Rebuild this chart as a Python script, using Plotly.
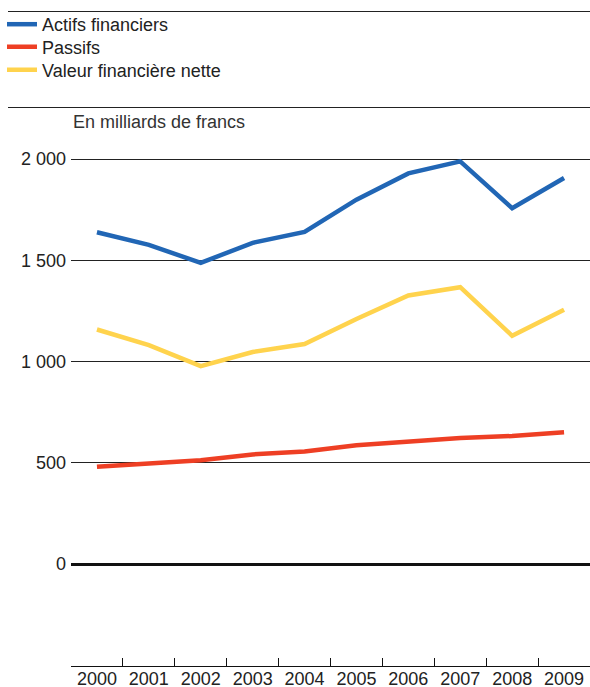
import plotly.graph_objects as go

years = ["2000", "2001", "2002", "2003", "2004", "2005", "2006", "2007", "2008", "2009"]
actifs = [1638, 1576, 1487, 1586, 1640, 1799, 1929, 1988, 1757, 1906]
passifs = [480, 495, 512, 541, 556, 586, 606, 622, 632, 651]
valeur_nette = [1158, 1081, 977, 1047, 1086, 1210, 1326, 1367, 1127, 1255]

names = ["Actifs financiers", "Passifs", "Valeur financière nette"]
values = [actifs, passifs, valeur_nette]
colors = ["#2166B5", "#EE3F24", "#FFD34D"]
legend_ids = ["legend", "legend2", "legend3"]

W, H = 590, 687
ml, mr, mt, mb = 71, 0, 140, 687 - 666
pw = W - ml - mr
ph = H - mt - mb


def px_x(px):
    return (px - ml) / pw


def px_y(py):
    return (H - mb - py) / ph


font = "Liberation Sans, Arial, sans-serif"

fig = go.Figure()
for name, vals, col, lid in zip(names, values, colors, legend_ids):
    fig.add_trace(go.Scatter(x=years, y=vals, name=name, mode="lines",
                             line=dict(color=col, width=4.5), legend=lid))

legend_rows = [24.5, 47, 70]
legends = {}
for lid, row in zip(legend_ids, legend_rows):
    legends[lid] = dict(xref="paper", yref="paper",
                        x=px_x(2), y=px_y(row), xanchor="left", yanchor="middle",
                        font=dict(size=18, color="#222"), bgcolor="rgba(0,0,0,0)",
                        itemwidth=30, borderwidth=0)

y_top = (564 - 140) / 0.2025
y_bottom = (564 - 666) / 0.2025

fig.update_layout(
    width=W, height=H,
    margin=dict(l=ml, r=mr, t=mt, b=mb, pad=0, autoexpand=False),
    paper_bgcolor="white", plot_bgcolor="white",
    separators=". ",
    font=dict(family=font, size=18, color="#222"),
    showlegend=True,
    xaxis=dict(type="category", range=[-0.5, 9.5], tickson="boundaries",
               ticks="inside", ticklen=8, tickcolor="#111", tickwidth=1,
               showline=True, linecolor="#111", linewidth=1,
               ticklabelstandoff=-4,
               showgrid=False, zeroline=False, fixedrange=True),
    yaxis=dict(range=[y_bottom, y_top],
               tickvals=[0, 500, 1000, 1500, 2000],
               tickformat=",d", showgrid=True, gridcolor="#222", gridwidth=1,
               zeroline=True, zerolinecolor="#111", zerolinewidth=2.5,
               ticks="", showline=False, ticklabelstandoff=4, fixedrange=True),
    shapes=[
        dict(type="line", xref="paper", yref="paper", x0=px_x(8), x1=1,
             y0=px_y(11.5), y1=px_y(11.5), line=dict(color="#222", width=1)),
        dict(type="line", xref="paper", yref="paper", x0=px_x(8), x1=1,
             y0=px_y(107.5), y1=px_y(107.5), line=dict(color="#222", width=1)),
    ],
    annotations=[
        dict(text="En milliards de francs", xref="paper", yref="paper",
             x=px_x(71), y=px_y(122), xanchor="left", yanchor="middle",
             showarrow=False, font=dict(size=18, color="#333")),
    ],
    **legends,
)

fig.write_html(
    "out.html",
    config={"displayModeBar": False},
    post_script="document.documentElement.style.overflow='hidden';"
                "document.body.style.margin='0';document.body.style.overflow='hidden';",
)
